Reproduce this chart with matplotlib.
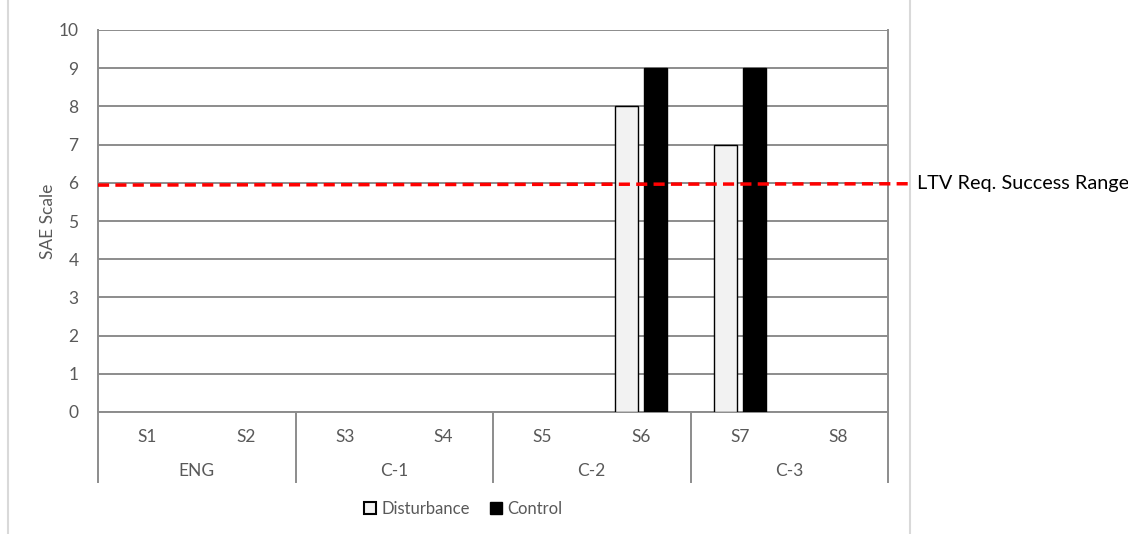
import matplotlib
matplotlib.use('Agg')
import matplotlib.pyplot as plt
import numpy as np
from matplotlib.lines import Line2D
from matplotlib.patches import Patch

plt.rcParams['font.family'] = ['Lato', 'DejaVu Sans']

sites = ['S1', 'S2', 'S3', 'S4', 'S5', 'S6', 'S7', 'S8']
groups = ['ENG', 'C-1', 'C-2', 'C-3']
disturbance = [np.nan, np.nan, np.nan, np.nan, np.nan, 8, 7, np.nan]
control = [np.nan, np.nan, np.nan, np.nan, np.nan, 9, 9, np.nan]
ltv_range = [5.94, 5.975]
yticks = list(range(0, 11))

grid_c = '#8c8c8c'
text_c = '#595959'

fig = plt.figure(figsize=(11.28, 5.34), dpi=100)
ax = fig.add_axes([98/1128, 1-412/534, 790/1128, 382/534])

x = np.arange(len(sites))
w = 0.23
ax.bar(x - 0.145, disturbance, w, color='#f2f2f2', edgecolor='black', linewidth=1, zorder=3)
ax.bar(x + 0.145, control, w, color='black', edgecolor='black', linewidth=1, zorder=3)

ax.set_xlim(-0.5, 7.5)
ax.set_ylim(0, 10)
ax.set_yticks(yticks)
ax.yaxis.grid(True, color=grid_c, linewidth=1.4, zorder=0)
ax.tick_params(axis='y', length=0, labelsize=12.5, labelcolor=text_c, pad=14)
ax.set_xticks([])
for s in ['left', 'right', 'bottom']:
    ax.spines[s].set_color(grid_c)
    ax.spines[s].set_linewidth(1.4)
ax.spines['top'].set_visible(False)
ax.set_ylabel('SAE Scale', fontsize=12.5, color=text_c, labelpad=2)

# red dashed success line, runs past the plot to the label
ax.plot([-0.5, 7.75], ltv_range, '--', color='red', linewidth=2.5,
        dashes=(3.2, 1.8), clip_on=False, zorder=4)
ax.text(7.79, ltv_range[1], 'LTV Req. Success Range', fontsize=14.3,
        color='black', va='center', ha='left')

# category axis (two levels)
tr = ax.get_xaxis_transform()
for i, s in enumerate(sites):
    ax.text(i, -0.065, s, transform=tr, ha='center', va='center',
            fontsize=12.5, color=text_c)
for j, g in enumerate(groups):
    ax.text(2*j + 0.5, -0.155, g, transform=tr, ha='center', va='center',
            fontsize=12.5, color=text_c)
for k in range(5):
    ax.add_line(Line2D([2*k - 0.5, 2*k - 0.5], [0, -0.183], transform=tr,
                       color=grid_c, linewidth=1.4, clip_on=False))

handles = [Patch(facecolor='#f2f2f2', edgecolor='black', linewidth=1.5),
           Patch(facecolor='black', edgecolor='black')]
fig.legend(handles, ['Disturbance', 'Control'], loc='center',
           bbox_to_anchor=(463/1128, 1-509/534), ncol=2, frameon=False,
           fontsize=12, handlelength=0.75, handleheight=0.75,
           handletextpad=0.3, columnspacing=1.2, labelcolor=text_c)

# light side borders
fig.add_artist(Line2D([8/1128, 8/1128], [0, 1], color='#d9d9d9', linewidth=1.5))
fig.add_artist(Line2D([910/1128, 910/1128], [0, 1], color='#d9d9d9', linewidth=1.5))

fig.savefig('out.png', dpi=100)
